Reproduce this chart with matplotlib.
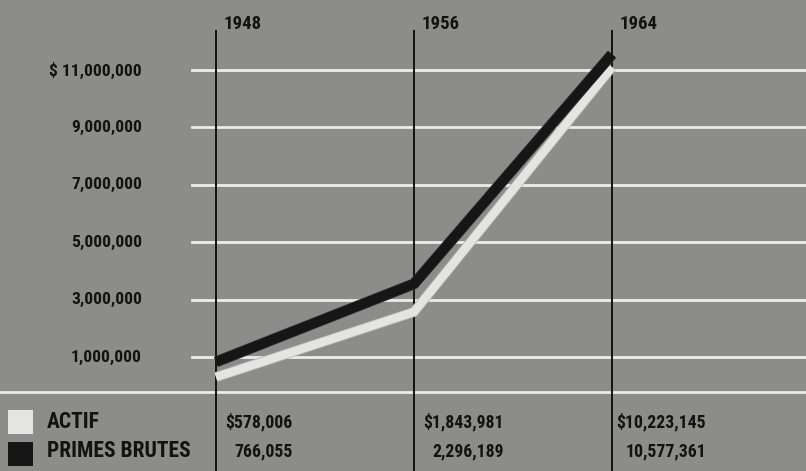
import matplotlib.pyplot as plt
from matplotlib.patches import Rectangle
import matplotlib.patheffects as pe

# Data
years = [1948, 1956, 1964]
actif_plot = [0.30e6, 2.57e6, 11.1e6]     # light line, as drawn
primes_plot = [0.83e6, 3.55e6, 11.55e6]   # dark line, as drawn
actif_table = ["\\$578,006", "\\$1,843,981", "\\$10,223,145"]
primes_table = ["766,055", "2,296,189", "10,577,361"]
grid_values = [1e6, 3e6, 5e6, 7e6, 9e6, 11e6]
grid_labels = ["1,000,000", "3,000,000", "5,000,000", "7,000,000",
               "9,000,000", "\\$ 11,000,000"]
series_names = ["ACTIF", "PRIMES BRUTES"]

FONT = ["Roboto Condensed", "Liberation Sans", "DejaVu Sans"]
BG = "#8c8c8a"
LIGHT = "#e4e4e0"
DARK = "#161616"
INK = "#121212"

# Figure geometry: 806 x 471 px, axes fills the whole figure
W, H = 806, 471
px_per_year = 24.75
x0_year = 1948 - 216 / px_per_year
px_per_m = 28.7
zero_px = 385.7


def xd(px):
    return x0_year + px / px_per_year


def yd(px):
    return (zero_px - px) / px_per_m * 1e6


fig = plt.figure(figsize=(W / 100, H / 100), dpi=100)
fig.patch.set_facecolor(BG)
ax = fig.add_axes([0, 0, 1, 1])
ax.set_facecolor(BG)
ax.set_xlim(xd(0), xd(W))
ax.set_ylim(yd(H), yd(0))
ax.axis("off")

# white horizontal grid lines
for v in grid_values:
    ax.axhline(v, xmin=192 / W, xmax=1, color="#ececE8", lw=2.0, zorder=1)
ax.axhline(yd(392), xmin=0, xmax=1, color="#ececE8", lw=2.0, zorder=1)

# vertical year lines
ax.vlines(years, yd(H), yd(30), color=INK, lw=1.4, zorder=2)

# y labels
for v, lab in zip(grid_values, grid_labels):
    ax.text(xd(142), v, lab, ha="right", va="center", fontsize=12.6,
            fontweight="bold", family=FONT, color=INK)

# year labels
for yr in years:
    ax.annotate(str(yr), xy=(yr, yd(24)), xytext=(8, 0),
                textcoords="offset pixels", ha="left", va="center",
                fontsize=13.5, fontweight="bold", family=FONT, color=INK)

# series lines
ax.plot(years, primes_plot, color=DARK, lw=7.0, solid_joinstyle="round",
        solid_capstyle="butt", zorder=4,
        path_effects=[pe.Stroke(linewidth=8.0, foreground="#3a3a3a"), pe.Normal()])
ax.plot(years, actif_plot, color=LIGHT, lw=6.0, solid_joinstyle="round",
        solid_capstyle="butt", zorder=3,
        path_effects=[pe.Stroke(linewidth=7.2, foreground="#b5b5b2"), pe.Normal()])

# legend squares and names
fig.patches.append(Rectangle((8 / W, (H - 434) / H), 25 / W, 24 / H,
                             transform=fig.transFigure, facecolor=LIGHT,
                             edgecolor="none"))
fig.patches.append(Rectangle((8 / W, (H - 466) / H), 25 / W, 24 / H,
                             transform=fig.transFigure, facecolor=DARK,
                             edgecolor="none"))
for name, ypx in zip(series_names, [422, 451]):
    fig.text(47 / W, 1 - ypx / H, name, ha="left", va="center", fontsize=15.5,
             fontweight="bold", family=FONT, color=INK)

# value table under the chart
right_px = [77, 90, 94]
for yr, a, p, dx in zip(years, actif_table, primes_table, right_px):
    ax.annotate(a, xy=(yr, yd(422)), xytext=(dx, 0), textcoords="offset pixels",
                ha="right", va="center", fontsize=12.8, fontweight="bold",
                family=FONT, color=INK)
    ax.annotate(p, xy=(yr, yd(451)), xytext=(dx, 0), textcoords="offset pixels",
                ha="right", va="center", fontsize=12.8, fontweight="bold",
                family=FONT, color=INK)

fig.savefig("out.png", dpi=100, facecolor=BG)
